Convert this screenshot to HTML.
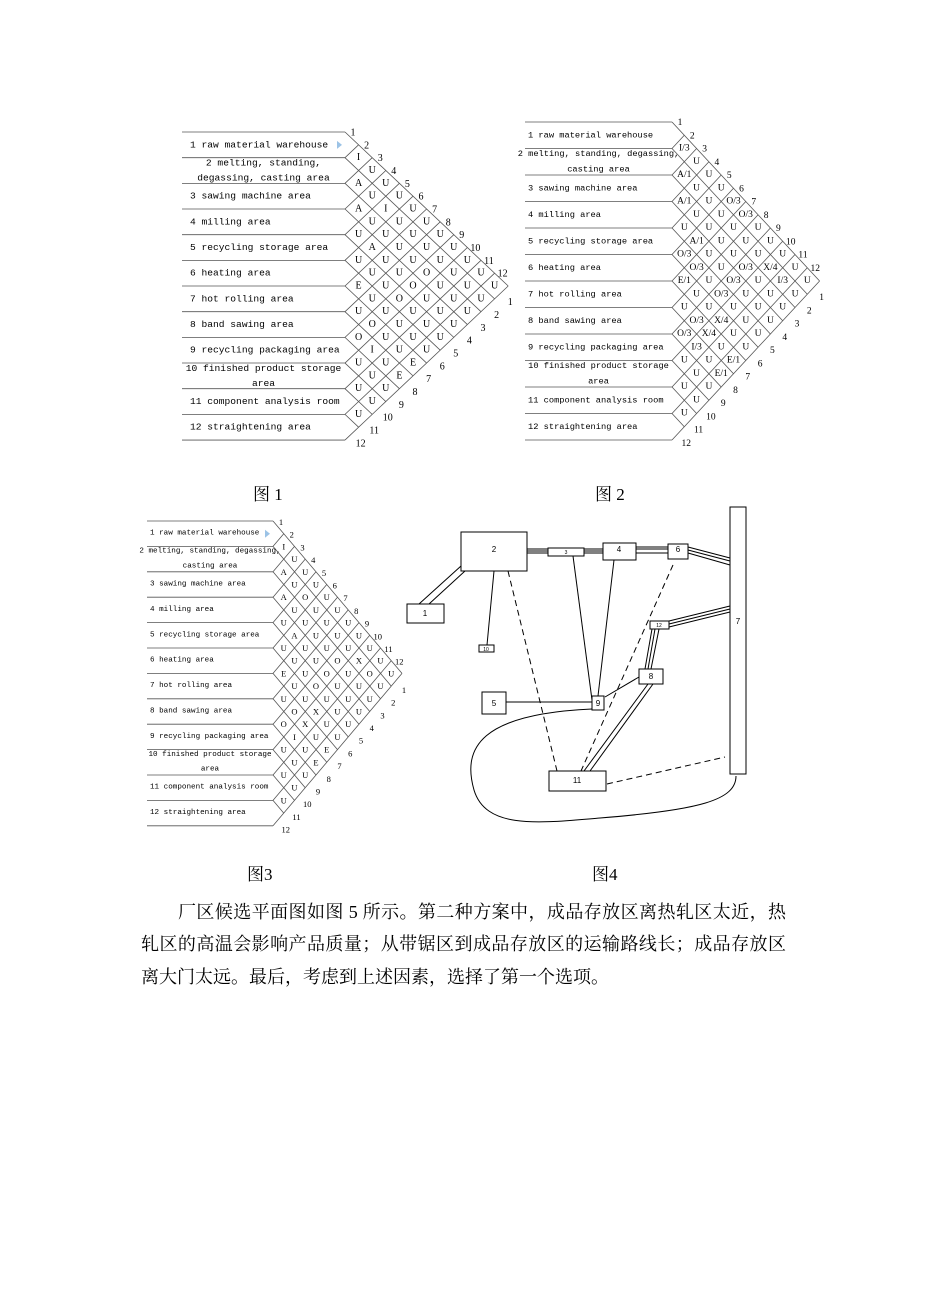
<!DOCTYPE html>
<html><head><meta charset="utf-8">
<style>
html,body{margin:0;padding:0;background:#fff;}
#wrap{position:relative;width:926px;height:1309px;overflow:hidden;}
svg{position:absolute;left:0;top:0;}
.cap{position:absolute;font-family:"Liberation Serif","Noto Serif CJK SC",serif;font-size:17px;color:#000;}
.p{position:absolute;left:141px;width:645px;font-family:"Liberation Serif","Noto Serif CJK SC",serif;font-size:18px;color:#000;line-height:20px;white-space:nowrap;}
.j{text-align:justify;text-align-last:justify;}
</style></head><body>
<div id="wrap">
<svg id="s" width="926" height="1309" viewBox="0 0 926 1309" xmlns="http://www.w3.org/2000/svg">
<g id="f4" fill="none" stroke="#000" stroke-width="1">
 <rect x="461" y="532" width="66" height="39"/>
 <rect x="548" y="548" width="36" height="8"/>
 <rect x="603" y="543" width="33" height="17"/>
 <rect x="668" y="544" width="20" height="15"/>
 <rect x="730" y="507" width="16" height="267"/>
 <rect x="407" y="604" width="37" height="19"/>
 <rect x="479" y="645" width="15" height="7"/>
 <rect x="650" y="621" width="19" height="8"/>
 <rect x="639" y="669" width="24" height="15"/>
 <rect x="482" y="692" width="24" height="22"/>
 <rect x="592" y="696" width="12" height="14"/>
 <rect x="549" y="771" width="57" height="20"/>
 <line x1="461" y1="566" x2="419" y2="604"/><line x1="465" y1="571" x2="429" y2="604"/>
 <line x1="527" y1="549" x2="548" y2="549"/><line x1="527" y1="551" x2="548" y2="551"/><line x1="527" y1="553" x2="548" y2="553"/>
 <line x1="584" y1="549" x2="603" y2="549"/><line x1="584" y1="551" x2="603" y2="551"/><line x1="584" y1="553" x2="603" y2="553"/>
 <line x1="636" y1="547" x2="668" y2="547"/><line x1="636" y1="549" x2="668" y2="549"/><line x1="636" y1="553" x2="668" y2="553"/>
 <line x1="688" y1="547" x2="730" y2="558"/><line x1="688" y1="550" x2="730" y2="561"/><line x1="688" y1="553" x2="730" y2="565"/>
 <line x1="730" y1="606" x2="669" y2="621"/><line x1="730" y1="609" x2="669" y2="624"/><line x1="730" y1="612" x2="669" y2="627"/>
 <line x1="652" y1="629" x2="645" y2="669"/><line x1="655" y1="629" x2="648" y2="669"/><line x1="659" y1="629" x2="651" y2="669"/>
 <line x1="648" y1="684" x2="584" y2="771"/><line x1="653" y1="684" x2="590" y2="771"/>
 <line x1="494" y1="571" x2="487" y2="645"/>
 <line x1="573" y1="556" x2="592" y2="700"/>
 <line x1="614" y1="560" x2="598" y2="696"/>
 <line x1="639" y1="677" x2="605" y2="697"/>
 <line x1="506" y1="702" x2="592" y2="702"/>
 <g stroke-dasharray="6,4">
  <line x1="508" y1="571" x2="557" y2="771"/>
  <line x1="673" y1="565" x2="581" y2="771"/>
  <line x1="607" y1="784" x2="725" y2="757"/>
 </g>
 <path d="M592,709 C480,714 462,748 474,790 C486,830 540,823 600,818 C700,810 736,800 736,776"/>
</g>
<g font-family="Liberation Sans, sans-serif" font-size="8" text-anchor="middle" fill="#000">
 <text x="494" y="552">2</text><text x="619" y="552">4</text><text x="678" y="552">6</text>
 <text x="738" y="624">7</text><text x="425" y="616">1</text><text x="494" y="706">5</text>
 <text x="651" y="679">8</text><text x="598" y="706">9</text><text x="577" y="783">11</text>
 <text x="566" y="554" font-size="5">3</text><text x="486" y="651" font-size="5">10</text><text x="659" y="627" font-size="5">12</text>
</g>
</svg>
<div class="cap" style="left:253px;top:480px;">图 1</div>
<div class="cap" style="left:595px;top:480px;">图 2</div>
<div class="cap" style="left:247px;top:860px;">图3</div>
<div class="cap" style="left:592px;top:860px;">图4</div>
<div class="p j" style="top:902px;padding-left:37px;width:608px;">厂区候选平面图如图 5 所示。第二种方案中，成品存放区离热轧区太近，热</div>
<div class="p j" style="top:934px;">轧区的高温会影响产品质量；从带锯区到成品存放区的运输路线长；成品存放区</div>
<div class="p" style="top:967px;">离大门太远。最后，考虑到上述因素，选择了第一个选项。</div>
</div>
<script>
var NS="http://www.w3.org/2000/svg",S=document.getElementById("s");
function el(t,a,txt){var e=document.createElementNS(NS,t);for(var k in a)e.setAttribute(k,a[k]);if(txt!=null)e.textContent=txt;S.appendChild(e);return e;}
var L1=["1 raw material warehouse",["2 melting, standing,","degassing, casting area"],"3 sawing machine area","4 milling area","5 recycling storage area","6 heating area","7 hot rolling area","8 band sawing area","9 recycling packaging area",["10 finished product storage","area"],"11 component analysis room","12 straightening area"];
var L2=L1.slice();L2[1]=["2 melting, standing, degassing,","casting area"];
var R1=["I","U","A U","U U","A I U","U U U","U U U U","A U U U","U U U U U","U U O U U","E U O U U U","U O U U U","U U U U U","O U U U","O U U U","I U U","U U E","U E","U U","U","U"];
var R2=["I/3","U","A/1 U","U U","A/1 U O/3","U U O/3","U U U U","A/1 U U U","O/3 U U U U","O/3 U O/3 X/4 U","E/1 U O/3 U I/3 U","U O/3 U U U","U U U U U","O/3 X/4 U U","O/3 X/4 U U","I/3 U U","U U E/1","U E/1","U U","U","U"];
var R3=["I","U","A U","U U","A O U","U U U","U U U U","A U U U","U U U U U","U U O X U","E U O U O U","U O U U U","U U U U U","O X U U","O X U U","I U U","U U E","U E","U U","U","U"];
function chart(c){
 var x0=c.x0,y0=c.y0,h=c.h,w=c.w,lx=c.lx,ff="Liberation Mono, monospace",st={stroke:"#555","stroke-width":"0.8"};
 for(var k=0;k<=12;k++){var y=y0+k*h;
  el("line",Object.assign({x1:lx,y1:y,x2:x0,y2:y},st));
  el("line",Object.assign({x1:x0,y1:y,x2:x0+(12-k)*w,y2:y+(12-k)*h/2},st));
  el("line",Object.assign({x1:x0,y1:y,x2:x0+k*w,y2:y-k*h/2},st));}
 for(var i=1;i<=12;i++){var lb=c.labels[i-1],yc=y0+(i-0.5)*h;
  if(typeof lb=="string")el("text",{x:lx+c.ti,y:yc,"font-family":ff,"font-size":c.fs,"dominant-baseline":"central"},lb);
  else{el("text",{x:(lx+x0)/2,y:yc-c.h*0.29,"font-family":ff,"font-size":c.fs,"text-anchor":"middle","dominant-baseline":"central"},lb[0]);
   el("text",{x:(lx+x0)/2,y:yc+c.h*0.29,"font-family":ff,"font-size":c.fs,"text-anchor":"middle","dominant-baseline":"central"},lb[1]);}}
 for(var d=3;d<=23;d++){var items=c.rows[d-3].split(" "),n=0;
  for(var ii=Math.floor((d-1)/2);ii>=Math.max(1,d-12);ii--){var jj=d-ii;
   el("text",{x:x0+(jj-ii)*w,y:y0+(ii+jj-1)/2*h,"font-family":"Liberation Serif, serif","font-size":c.cs,"text-anchor":"middle","dominant-baseline":"central"},items[n++]||"");}}
 for(var n2=1;n2<=12;n2++){
  el("text",{x:x0+(n2-1)*w+8,y:y0+(n2-1)*h/2+1,"font-family":"Liberation Serif, serif","font-size":c.cs,"text-anchor":"middle","dominant-baseline":"central"},String(n2));
  el("text",{x:x0+(12-n2)*w+w+2,y:y0+6*h+n2*h/2+h*0.15,"font-family":"Liberation Serif, serif","font-size":c.cs,"text-anchor":"middle","dominant-baseline":"central"},String(n2));}
 if(c.tri)el("path",{d:"M"+(x0-8)+","+(y0+h*0.5-4)+" l5,4 l-5,4z",fill:"#9cc3e6"});
}
chart({x0:345,y0:132,h:25.67,w:13.6,lx:182,ti:8,fs:9.6,cs:10,labels:L1,rows:R1,tri:1});
chart({x0:672,y0:122,h:26.5,w:12.3,lx:525,ti:3,fs:8.7,cs:9.5,labels:L2,rows:R2});
chart({x0:273,y0:521,h:25.4,w:10.75,lx:147,ti:3,fs:7.6,cs:8.5,labels:L2,rows:R3,tri:1});
</script>
</body></html>
